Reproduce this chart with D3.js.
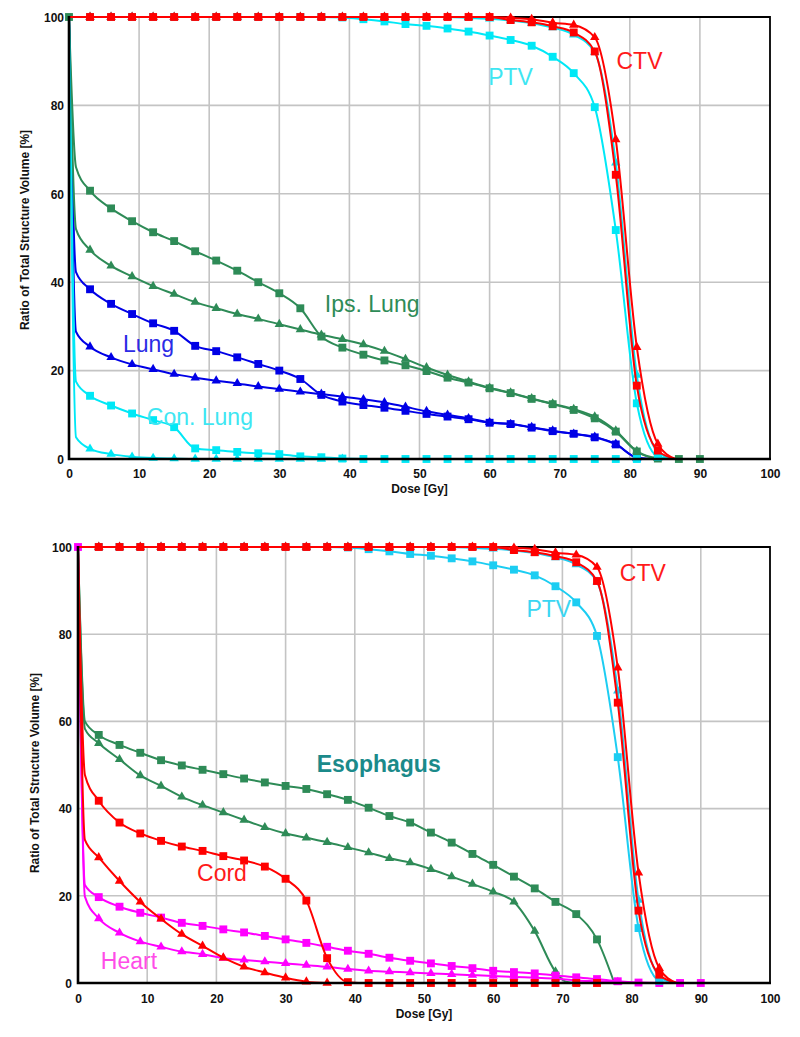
<!DOCTYPE html>
<html><head><meta charset="utf-8">
<script src="https://cdn.jsdelivr.net/npm/d3@7"></script>
<style>body{margin:0;background:#fff}svg{display:block;font-family:"Liberation Sans",Arial,sans-serif}</style>
</head><body><svg id="c" width="800" height="1037"></svg>
<script>
// ---------- axis ticks ----------
const xTicks = [0,10,20,30,40,50,60,70,80,90,100];
const yTicks = [0,20,40,60,80,100];
const xTitle = "Dose [Gy]";
const yTitle = "Ratio of Total Structure Volume [%]";

// ---------- shared target curves (CTV / PTV) ----------
const ctvSqDose  = [0,3,6,9,12,15,18,21,24,27,30,33,36,39,42,45,48,51,54,57,60,63,66,69,72,75,78,81,84,86.5];
const ctvSqVol   = [100,100,100,100,100,100,100,100,100,100,100,100,100,100,100,100,100,100,100,100,100,99.3,98.8,97.9,96.5,92.2,64.3,16.6,1.9,0];
const ctvTriDose = [0,3,6,9,12,15,18,21,24,27,30,33,36,39,42,45,48,51,54,57,60,63,66,69,72,75,78,81,84,86.5];
const ctvTriVol  = [100,100,100,100,100,100,100,100,100,100,100,100,100,100,100,100,100,100,100,100,100,99.8,99.5,98.7,98.2,95.4,72.3,25.3,3.4,0];
const ptvSqDose  = [0,3,6,9,12,15,18,21,24,27,30,33,36,39,42,45,48,51,54,57,60,63,66,69,72,75,78,81,84,85.5];
const ptvSqVol   = [100,100,100,100,100,100,100,100,100,100,100,100,100,99.9,99.5,99,98.4,98,97.4,96.7,95.8,94.8,93.5,91,87.3,79.6,51.8,12.6,0.5,0];
const ptvTriDose = [0,3,6,9,12,15,18,21,24,27,30,33,36,39,42,45,48,51,54,57,60,63,66,69,72,75,78,81,84,86];
const ptvTriVol  = [100,100,100,100,100,100,100,100,100,100,100,100,100,100,100,100,100,100,100,99.8,99.6,99.2,98.6,97.6,96,92,67,19,1.5,0];

// ---------- top panel: lungs ----------
const ipsSqDose  = [0,1,3,6,9,12,15,18,21,24,27,30,33,36,39,42,45,48,51,54,57,60,63,66,69,72,75,78,81,84,87,90];
const ipsSqVol   = [100,66,60.7,56.7,53.8,51.3,49.3,47,44.9,42.6,40,37.5,34.1,27.7,25.2,23.6,22.3,21.2,19.9,18.4,17.3,16,14.9,13.6,12.4,11.1,9.2,6.2,1.7,0.1,0,0];
const ipsTriDose = [0,1,3,6,9,12,15,18,21,24,27,30,33,36,39,42,45,48,51,54,57,60,63,66,69,72,75,78,81,84,86];
const ipsTriVol  = [100,52,47.3,43.7,41.3,39.1,37.3,35.5,34.1,32.8,31.7,30.5,29.3,28.1,27.1,25.9,24.4,22.6,20.7,19,17.5,16.1,15,13.7,12.5,11.3,9.6,6.4,1.8,0.2,0];
const lungSqDose  = [0,1,3,6,9,12,15,18,21,24,27,30,33,36,39,42,45,48,51,54,57,60,63,66,69,72,75,78,81,83];
const lungSqVol   = [100,42.3,38.4,35.1,32.8,30.7,29,25.6,24.4,23,21.5,20,18.1,14.5,13,12.2,11.6,10.9,10.2,9.6,9,8.2,7.9,7.1,6.3,5.7,4.9,3.3,0.3,0];
const lungTriDose = [0,1,3,6,9,12,15,18,21,24,27,30,33,36,39,42,45,48,51,54,57,60,63,66,69,72,75,78,81,83];
const lungTriVol  = [100,28.8,25.4,23,21.4,20.3,19.2,18.4,17.7,17.1,16.4,15.8,15.2,14.7,14.1,13.5,12.8,11.8,10.8,10,9.2,8.3,7.9,7.2,6.4,5.7,5,3.4,0.3,0];
const conSqDose  = [0,1,3,6,9,12,15,18,21,24,27,30,33,36,39,42,45,48,51,54,57,60,63,66,69,72,75,78,81];
const conSqVol   = [100,17.5,14.3,12.1,10.3,8.8,7.2,2.4,2,1.6,1.3,1.1,0.6,0.4,0.1,0,0,0,0,0,0,0,0,0,0,0,0,0,0];
const conTriDose = [0,1,3,6,9,12,15,18,21,24,27,30,33,36,39];
const conTriVol  = [100,4.9,2.3,1.1,0.5,0.2,0.1,0,0,0,0,0,0,0,0];

// ---------- bottom panel: esophagus, cord, heart ----------
const esoSqDose  = [0,1,3,6,9,12,15,18,21,24,27,30,33,36,39,42,45,48,51,54,57,60,63,66,69,72,75,77.5];
const esoSqVol   = [100,60,56.9,54.6,52.8,51.1,49.9,48.9,47.9,46.9,46,45.2,44.5,43.3,42,40.2,38.3,36.8,34.5,32.2,29.6,27.1,24.4,21.7,18.6,15.8,10,0];
const esoTriDose = [0,1,3,6,9,12,15,18,21,24,27,30,33,36,39,42,45,48,51,54,57,60,63,66,69,70.5,72];
const esoTriVol  = [100,58.3,55,51.3,47.6,45.2,42.7,40.8,39.1,37.4,35.7,34.3,33.3,32.3,31.1,29.9,28.6,27.6,26.1,24.4,22.7,20.9,18.6,11.9,2.6,0.3,0];
const cordSqDose  = [0,1,3,6,9,12,15,18,21,24,27,30,33,36,39,42,45,48,51,54,57,60,63,66,69,72,75];
const cordSqVol   = [100,47.7,41.8,36.8,34.3,32.6,31.3,30.3,29.1,28.1,26.7,23.9,18.9,5.7,0.2,0,0,0,0,0,0,0,0,0,0,0,0];
const cordTriDose = [0,1,3,6,9,12,15,18,21,24,27,30,33,36];
const cordTriVol  = [100,32.8,28.8,23.4,18.6,14.7,11.2,8.5,5.8,3.7,2.4,1.2,0.3,0];
const heartSqDose  = [0,1,3,6,9,12,15,18,21,24,27,30,33,36,39,42,45,48,51,54,57,60,63,66,69,72,75,78,81,84,87,90];
const heartSqVol   = [100,22.5,19.7,17.5,16.1,15,13.8,13.1,12.3,11.6,10.8,10,9.2,8.3,7.4,6.7,5.8,5.1,4.5,3.9,3.4,2.8,2.5,2.2,1.7,1.3,0.9,0.4,0.1,0,0,0];
const heartTriDose = [0,1,3,6,9,12,15,18,21,24,27,30,33,36,39,42,45,48,51,54,57,60,63,66,69,72,75,78,80];
const heartTriVol  = [100,19.8,14.8,11.5,9.5,8.3,7.2,6.6,5.7,5.3,4.9,4.5,4.1,3.7,3.2,2.8,2.6,2.4,2.2,2,1.8,1.6,1.4,1.2,1,0.6,0.4,0.2,0];

// ---------- labels (data coordinates) ----------
const topLabels = [
  {text:"PTV", dose:59.8, vol:84.6, color:"#3ee6f2"},
  {text:"CTV", dose:78.1, vol:88.2, color:"#ff1a1a"},
  {text:"Ips. Lung", dose:36.5, vol:33.3, color:"#2e8b57"},
  {text:"Lung", dose:7.7, vol:24.3, color:"#2b2be6"},
  {text:"Con. Lung", dose:11.1, vol:7.7, color:"#3ee6f2"}
];
const botLabels = [
  {text:"CTV", dose:78.3, vol:92.3, color:"#ff1a1a"},
  {text:"PTV", dose:64.8, vol:84.0, color:"#3ad6f2"},
  {text:"Esophagus", dose:34.5, vol:48.4, color:"#1b8a8a", bold:true},
  {text:"Cord", dose:17.2, vol:23.4, color:"#ff1a1a"},
  {text:"Heart", dose:3.3, vol:3.2, color:"#ff4ce8"}
];

const RED="#ff0000", CYAN="#00e8f6", CYAN2="#1ccdf2", GREEN="#2e8b57", BLUE="#0000e6", MAG="#ff00ff";

const topSeries = [
  {dose:lungSqDose, vol:lungSqVol, color:BLUE, sym:"sq"},
  {dose:lungTriDose, vol:lungTriVol, color:BLUE, sym:"tri"},
  {dose:ipsTriDose, vol:ipsTriVol, color:GREEN, sym:"tri"},
  {dose:ipsSqDose, vol:ipsSqVol, color:GREEN, sym:"sq", markZero:true},
  {dose:conTriDose, vol:conTriVol, color:CYAN, sym:"tri"},
  {dose:conSqDose, vol:conSqVol, color:CYAN, sym:"sq"},
  {dose:ptvTriDose, vol:ptvTriVol, color:CYAN, sym:"tri"},
  {dose:ptvSqDose, vol:ptvSqVol, color:CYAN, sym:"sq"},
  {dose:ctvTriDose, vol:ctvTriVol, color:RED, sym:"tri"},
  {dose:ctvSqDose, vol:ctvSqVol, color:RED, sym:"sq"}
];
const botSeries = [
  {dose:esoTriDose, vol:esoTriVol, color:GREEN, sym:"tri"},
  {dose:esoSqDose, vol:esoSqVol, color:GREEN, sym:"sq"},
  {dose:heartTriDose, vol:heartTriVol, color:MAG, sym:"tri"},
  {dose:heartSqDose, vol:heartSqVol, color:MAG, sym:"sq", markZero:true},
  {dose:cordTriDose, vol:cordTriVol, color:RED, sym:"tri"},
  {dose:cordSqDose, vol:cordSqVol, color:RED, sym:"sq"},
  {dose:ptvTriDose, vol:ptvTriVol, color:CYAN2, sym:"tri"},
  {dose:ptvSqDose, vol:ptvSqVol, color:CYAN2, sym:"sq"},
  {dose:ctvTriDose, vol:ctvTriVol, color:RED, sym:"tri"},
  {dose:ctvSqDose, vol:ctvSqVol, color:RED, sym:"sq"}
];

const svg = d3.select("#c");

function panel(cfg, series, labels){
  const x = d3.scaleLinear().domain([0,100]).range([cfg.left, cfg.right]);
  const y = d3.scaleLinear().domain([0,100]).range([cfg.bottom, cfg.top]);
  const g = svg.append("g");

  // grid
  g.append("g").selectAll("line").data(xTicks.filter(t=>t>0 && t<100)).join("line")
    .attr("x1",d=>x(d)).attr("x2",d=>x(d)).attr("y1",y(0)).attr("y2",y(100))
    .attr("stroke","#c4c4c4").attr("stroke-width",1.6);
  g.append("g").selectAll("line").data(yTicks.filter(t=>t>0 && t<100)).join("line")
    .attr("y1",d=>y(d)).attr("y2",d=>y(d)).attr("x1",x(0)).attr("x2",x(100))
    .attr("stroke","#c4c4c4").attr("stroke-width",1.6);

  // frame top/right
  g.append("path").attr("d",`M${x(0)},${y(100)}H${x(100)}V${y(0)}`)
    .attr("fill","none").attr("stroke","#000").attr("stroke-width",1.8);

  // axes
  const xAxis = d3.axisBottom(x).tickValues(xTicks).tickSize(0).tickPadding(10);
  const yAxis = d3.axisLeft(y).tickValues(yTicks).tickSize(0).tickPadding(cfg.left - cfg.yTickEnd);
  const gx = g.append("g").attr("transform",`translate(0,${y(0)})`).call(xAxis);
  const gy = g.append("g").attr("transform",`translate(${x(0)},0)`).call(yAxis);
  [gx,gy].forEach(a=>{
    a.select(".domain").remove();
    a.selectAll("text").attr("font-family","'Liberation Sans',Arial,sans-serif")
      .attr("font-size",12).attr("font-weight","bold").attr("fill","#111");
  });
  gx.selectAll("text").attr("dy",null).attr("y",cfg.xTickOff);
  gy.selectAll("text").attr("dy","0.36em");

  // curves
  const line = d3.line().x(d=>x(d[0])).y(d=>y(d[1])).curve(d3.curveMonotoneX);
  const symSq = d3.symbol().type(d3.symbolSquare).size(62);
  const symTri = d3.symbol().type(d3.symbolTriangle).size(38);
  series.forEach(s=>{
    const pts = s.dose.map((d,i)=>[d,s.vol[i]]);
    g.append("path").datum(pts).attr("d",line).attr("fill","none")
      .attr("stroke",s.color).attr("stroke-width",2).attr("stroke-linejoin","round");
    const mk = pts.filter(p=>p[0]%3===0 && (p[0]>0 || s.markZero));
    g.append("g").selectAll("path").data(mk).join("path")
      .attr("transform",p=>`translate(${x(p[0])},${y(p[1])})`)
      .attr("d", s.sym==="sq" ? symSq : symTri)
      .attr("fill",s.color);
  });

  // left & bottom axis lines (thick)
  g.append("path").attr("d",`M${x(0)},${y(100)-1}V${y(0)}H${x(100)+1}`)
    .attr("fill","none").attr("stroke","#000").attr("stroke-width",2.6);

  // axis titles
  g.append("text").attr("x",(x(0)+x(100))/2).attr("y",cfg.xTitleY)
    .attr("text-anchor","middle").attr("font-size",12).attr("font-weight","bold")
    .attr("fill","#111").text(xTitle);
  g.append("text").attr("transform",`translate(${cfg.yTitleX},${cfg.yTitleY}) rotate(-90)`)
    .attr("text-anchor","middle").attr("dominant-baseline","central")
    .attr("font-size",12).attr("font-weight","bold").attr("fill","#111").text(yTitle);

  // curve labels
  g.append("g").selectAll("text").data(labels).join("text")
    .attr("x",d=>x(d.dose)).attr("y",d=>y(d.vol))
    .attr("font-size",23).attr("font-weight",d=>d.bold?"bold":"normal")
    .attr("fill",d=>d.color).text(d=>d.text);
}

panel({left:69,right:770,top:17,bottom:459,yTickEnd:64,xTickOff:19,xTitleY:493,yTitleX:25,yTitleY:230}, topSeries, topLabels);
panel({left:78,right:770,top:547,bottom:983,yTickEnd:72,xTickOff:20,xTitleY:1018,yTitleX:35,yTitleY:773}, botSeries, botLabels);
</script>
</body></html>
